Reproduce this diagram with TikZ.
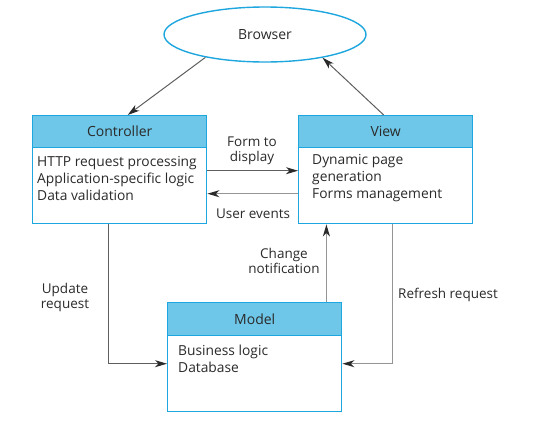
\documentclass[tikz,border=0pt]{standalone}
\usepackage{fontspec}
\setmainfont{Open Sans}
\usetikzlibrary{arrows.meta,shapes.geometric,calc}
\definecolor{bordc}{HTML}{1EA6DE}
\definecolor{headc}{HTML}{6EC7E8}
\definecolor{txtc}{HTML}{2A2A2A}
\definecolor{linec}{HTML}{5E5E5E}
\definecolor{lightc}{HTML}{959595}
\tikzset{
  boxshape/.style={draw=bordc, line width=1.4pt, fill=white, minimum width=174pt, anchor=north west, inner sep=0pt},
  headshape/.style={draw=bordc, line width=1.4pt, fill=headc, minimum width=174pt, minimum height=32pt, anchor=north west, inner sep=0pt, text=txtc, font=\fontsize{14}{16}\selectfont},
  bodytext/.style={anchor=north west, align=left, inner sep=0pt, text=txtc, font=\fontsize{13.8}{17}\selectfont},
  lbl/.style={align=center, inner sep=0pt, text=txtc, font=\fontsize{13.5}{15}\selectfont},
  conn/.style={draw=linec, line width=1pt, -{Stealth[length=12pt,width=7pt,inset=3.5pt,color=txtc]}},
  connl/.style={draw=lightc, line width=1.2pt, -{Stealth[length=12pt,width=7pt,inset=3.5pt,color=txtc]}},
}
\begin{document}
\begin{tikzpicture}[x=1pt,y=-1pt]
\useasboundingbox (0,0) rectangle (540,429);
% Browser
\node[ellipse, draw=bordc, line width=1.4pt, minimum width=202pt, minimum height=55pt, inner sep=0pt, text=txtc, font=\fontsize{14}{16}\selectfont] (brow) at (265,34.5) {Browser};
% Controller
\node[boxshape, minimum height=108pt] (ctrl) at (32,115) {};
\node[headshape] (ctrlh) at (ctrl.north west) {Controller};
\node[bodytext] (ctrlb) at ([xshift=5pt,yshift=-8pt]ctrlh.south west) {HTTP request processing\\Application-specific logic\\Data validation};
% View
\node[boxshape, minimum height=108pt] (view) at (298,115) {};
\node[headshape] (viewh) at (view.north west) {View};
\node[bodytext] (viewb) at ([xshift=14pt,yshift=-6pt]viewh.south west) {Dynamic page\\generation\\Forms management};
% Model
\node[boxshape, minimum height=109pt] (model) at (167,302) {};
\node[headshape, minimum height=33pt] (modelh) at (model.north west) {Model};
\node[bodytext] (modelb) at ([xshift=11pt,yshift=-8pt]modelh.south west) {Business logic\\Database};
% connectors
\draw[conn] (brow.201) -- ([xshift=8pt]ctrl.north);
\draw[conn] ([xshift=-2pt]view.north) -- (brow.338);
\draw[conn] ([yshift=-1pt]ctrl.east) -- ([yshift=-1pt]ctrl.east -| view.west);
\draw[connl] ([yshift=-24pt]view.west) -- ([yshift=-24pt]view.west -| ctrl.east);
\coordinate (cn) at ([xshift=-16pt]model.north east);
\draw[connl] (cn) -- (cn |- view.south);
\coordinate (ml) at ([yshift=-6.5pt]model.west);
\coordinate (mr) at ([yshift=-6.5pt]model.east);
\draw[conn] ([xshift=-11pt]ctrl.south) |- (ml);
\draw[connl] ([xshift=7pt]view.south) |- (mr);
% labels
\node[lbl] (lform) at (252,151) {Form to\\display};
\node[lbl] (luser) at (253,214) {User events};
\node[lbl] (lchange) at (284,261) {Change\\notification};
\node[lbl] (lupdate) at (65,297) {Update\\request};
\node[lbl, anchor=west] (lrefresh) at (398,295) {Refresh request};
\end{tikzpicture}
\end{document}
